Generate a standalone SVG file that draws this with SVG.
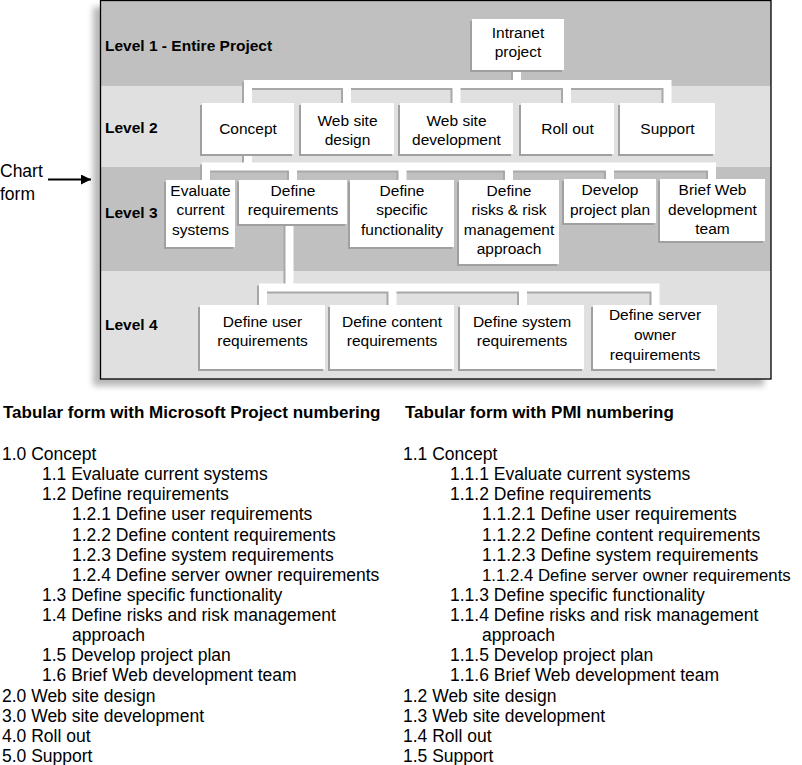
<svg xmlns="http://www.w3.org/2000/svg" xmlns:xlink="http://www.w3.org/1999/xlink" width="802" height="765" viewBox="0 0 802 765">
<style>
.bd{fill:#c0c0c0}
.bl{fill:#e0e0e0}
.lvl{font-family:"Liberation Sans",Arial,sans-serif;font-weight:bold;font-size:15.5px;fill:#000}
.sh{fill:#a0a0a0}
.box{fill:#ffffff}
.nt{font-family:"Liberation Sans",Arial,sans-serif;font-size:15.5px;text-anchor:middle;fill:#000}
.conn{fill:none;stroke:#ffffff;stroke-width:8;stroke-linejoin:miter;stroke-linecap:butt}
.connsh{fill:none;stroke:#a8a8a8;stroke-width:8;stroke-linejoin:miter;stroke-linecap:butt}
.hdr{font-family:"Liberation Sans",Arial,sans-serif;font-weight:bold;font-size:17px;fill:#000}
.row{font-family:"Liberation Sans",Arial,sans-serif;font-size:17.5px;fill:#000}
.side{font-family:"Liberation Sans",Arial,sans-serif;font-size:17.5px;fill:#000}
</style>
<defs>
<filter id="blur" x="-10%" y="-10%" width="120%" height="120%"><feGaussianBlur stdDeviation="3"/></filter>
<marker id="arr" viewBox="0 0 10 10" refX="10" refY="5" markerWidth="6.5" markerHeight="5" orient="auto" markerUnits="strokeWidth"><path d="M0,0 L10,5 L0,10 z" fill="#000"/></marker>
<path id="c1" d="M517,70 V84 M248,103 V84 H667.5 V103 M347,84 V103 M456.5,84 V103 M567,84 V103"/>
<path id="c2" d="M248,154 V167 M206,180 V166.5 H712 V180 M293,166.5 V180 M402.5,166.5 V180 M509,166.5 V180 M610,166.5 V180"/>
<path id="c3" d="M289.5,224 V288 M263,305 V287.5 H655.5 V305 M392.5,287.5 V305 M523,287.5 V305"/>
</defs>
<rect width="802" height="765" fill="#ffffff"/>

<g id="frame">
<rect x="93" y="7" width="671" height="379" fill="#000" opacity="0.28" filter="url(#blur)"/>
<rect class="bd" x="100" y="0" width="671" height="86"/>
<rect class="bl" x="100" y="86" width="671" height="81"/>
<rect class="bd" x="100" y="167" width="671" height="104"/>
<rect class="bl" x="100" y="271" width="671" height="108"/>
<text class="lvl" x="105" y="51">Level 1 - Entire Project</text>
<text class="lvl" x="105" y="133">Level 2</text>
<text class="lvl" x="105" y="218">Level 3</text>
<text class="lvl" x="105" y="330">Level 4</text>
</g>

<g id="chart-form">
<text class="side" x="0" y="177">Chart</text>
<text class="side" x="0" y="199.5">form</text>
<line x1="48" y1="179.5" x2="91" y2="179.5" stroke="#000" stroke-width="2" marker-end="url(#arr)"/>
</g>

<g id="connectors">
<g class="connsh" transform="translate(-2,2)"><use xlink:href="#c1"/><use xlink:href="#c2"/><use xlink:href="#c3"/></g>
<g class="conn"><use xlink:href="#c1"/><use xlink:href="#c2"/><use xlink:href="#c3"/></g>
</g>

<g id="n-intranet"><rect class="sh" x="470" y="21" width="92" height="51"/><rect class="box" x="472" y="19" width="92" height="51"/><text class="nt" x="518" y="38">Intranet</text><text class="nt" x="518" y="57">project</text></g>

<g id="n-concept"><rect class="sh" x="200" y="105" width="92" height="51"/><rect class="box" x="202" y="103" width="92" height="51"/><text class="nt" x="248" y="134">Concept</text></g>
<g id="n-design"><rect class="sh" x="299" y="105" width="93" height="51"/><rect class="box" x="301" y="103" width="93" height="51"/><text class="nt" x="347.5" y="125.5">Web site</text><text class="nt" x="347.5" y="145">design</text></g>
<g id="n-development"><rect class="sh" x="398" y="105" width="113" height="51"/><rect class="box" x="400" y="103" width="113" height="51"/><text class="nt" x="456.5" y="125.5">Web site</text><text class="nt" x="456.5" y="145">development</text></g>
<g id="n-rollout"><rect class="sh" x="519" y="105" width="93" height="51"/><rect class="box" x="521" y="103" width="93" height="51"/><text class="nt" x="567.5" y="134">Roll out</text></g>
<g id="n-support"><rect class="sh" x="618" y="105" width="95" height="51"/><rect class="box" x="620" y="103" width="95" height="51"/><text class="nt" x="667.5" y="134">Support</text></g>

<g id="n-evaluate"><rect class="sh" x="164" y="182" width="69" height="67"/><rect class="box" x="166" y="180" width="69" height="67"/><text class="nt" x="200.5" y="195.5">Evaluate</text><text class="nt" x="200.5" y="215">current</text><text class="nt" x="200.5" y="234.5">systems</text></g>
<g id="n-definereq"><rect class="sh" x="237" y="182" width="108" height="44"/><rect class="box" x="239" y="180" width="108" height="44"/><text class="nt" x="293" y="195.5">Define</text><text class="nt" x="293" y="215">requirements</text></g>
<g id="n-specific"><rect class="sh" x="348" y="182" width="104" height="67"/><rect class="box" x="350" y="180" width="104" height="67"/><text class="nt" x="402" y="195.5">Define</text><text class="nt" x="402" y="215">specific</text><text class="nt" x="402" y="234.5">functionality</text></g>
<g id="n-risks"><rect class="sh" x="457" y="182" width="100" height="84"/><rect class="box" x="459" y="180" width="100" height="84"/><text class="nt" x="509" y="195.5">Define</text><text class="nt" x="509" y="215">risks &amp; risk</text><text class="nt" x="509" y="234.5">management</text><text class="nt" x="509" y="254">approach</text></g>
<g id="n-plan"><rect class="sh" x="562" y="181" width="92" height="44"/><rect class="box" x="564" y="179" width="92" height="44"/><text class="nt" x="610" y="195">Develop</text><text class="nt" x="610" y="214.5">project plan</text></g>
<g id="n-brief"><rect class="sh" x="658" y="181" width="105" height="62"/><rect class="box" x="660" y="179" width="105" height="62"/><text class="nt" x="712.5" y="195">Brief Web</text><text class="nt" x="712.5" y="214.5">development</text><text class="nt" x="712.5" y="234">team</text></g>

<g id="n-user"><rect class="sh" x="198" y="307" width="125" height="64"/><rect class="box" x="200" y="305" width="125" height="64"/><text class="nt" x="262.5" y="326.5">Define user</text><text class="nt" x="262.5" y="346">requirements</text></g>
<g id="n-content"><rect class="sh" x="328" y="307" width="124" height="64"/><rect class="box" x="330" y="305" width="124" height="64"/><text class="nt" x="392" y="326.5">Define content</text><text class="nt" x="392" y="346">requirements</text></g>
<g id="n-system"><rect class="sh" x="458" y="307" width="124" height="64"/><rect class="box" x="460" y="305" width="124" height="64"/><text class="nt" x="522" y="326.5">Define system</text><text class="nt" x="522" y="346">requirements</text></g>
<g id="n-server"><rect class="sh" x="591" y="307" width="124" height="64"/><rect class="box" x="593" y="305" width="124" height="64"/><text class="nt" x="655" y="320">Define server</text><text class="nt" x="655" y="340">owner</text><text class="nt" x="655" y="359.5">requirements</text></g>

<rect x="100.5" y="0.5" width="670.5" height="378.5" fill="none" stroke="#000" stroke-width="1.3"/>

<g id="table-msp">
<text class="hdr" x="3" y="418">Tabular form with Microsoft Project numbering</text>
<text class="row" x="2" y="460">1.0 Concept</text>
<text class="row" x="42" y="480.1">1.1 Evaluate current systems</text>
<text class="row" x="42" y="500.3">1.2 Define requirements</text>
<text class="row" x="72" y="520.4">1.2.1 Define user requirements</text>
<text class="row" x="72" y="540.5">1.2.2 Define content requirements</text>
<text class="row" x="72" y="560.7">1.2.3 Define system requirements</text>
<text class="row" x="72" y="580.8">1.2.4 Define server owner requirements</text>
<text class="row" x="42" y="600.9">1.3 Define specific functionality</text>
<text class="row" x="42" y="621">1.4 Define risks and risk management</text>
<text class="row" x="72" y="641.2">approach</text>
<text class="row" x="42" y="661.3">1.5 Develop project plan</text>
<text class="row" x="42" y="681.4">1.6 Brief Web development team</text>
<text class="row" x="2" y="701.6">2.0 Web site design</text>
<text class="row" x="2" y="721.7">3.0 Web site development</text>
<text class="row" x="2" y="741.8">4.0 Roll out</text>
<text class="row" x="2" y="762">5.0 Support</text>
</g>

<g id="table-pmi">
<text class="hdr" x="405" y="418">Tabular form with PMI numbering</text>
<text class="row" x="403" y="460">1.1 Concept</text>
<text class="row" x="450" y="480.1">1.1.1 Evaluate current systems</text>
<text class="row" x="450" y="500.3">1.1.2 Define requirements</text>
<text class="row" x="482" y="520.4">1.1.2.1 Define user requirements</text>
<text class="row" x="482" y="540.5">1.1.2.2 Define content requirements</text>
<text class="row" x="482" y="560.7">1.1.2.3 Define system requirements</text>
<text class="row" x="482" y="580.8" style="font-size:16.8px">1.1.2.4 Define server owner requirements</text>
<text class="row" x="450" y="600.9">1.1.3 Define specific functionality</text>
<text class="row" x="450" y="621">1.1.4 Define risks and risk management</text>
<text class="row" x="482" y="641.2">approach</text>
<text class="row" x="450" y="661.3">1.1.5 Develop project plan</text>
<text class="row" x="450" y="681.4">1.1.6 Brief Web development team</text>
<text class="row" x="403" y="701.6">1.2 Web site design</text>
<text class="row" x="403" y="721.7">1.3 Web site development</text>
<text class="row" x="403" y="741.8">1.4 Roll out</text>
<text class="row" x="403" y="762">1.5 Support</text>
</g>
</svg>
